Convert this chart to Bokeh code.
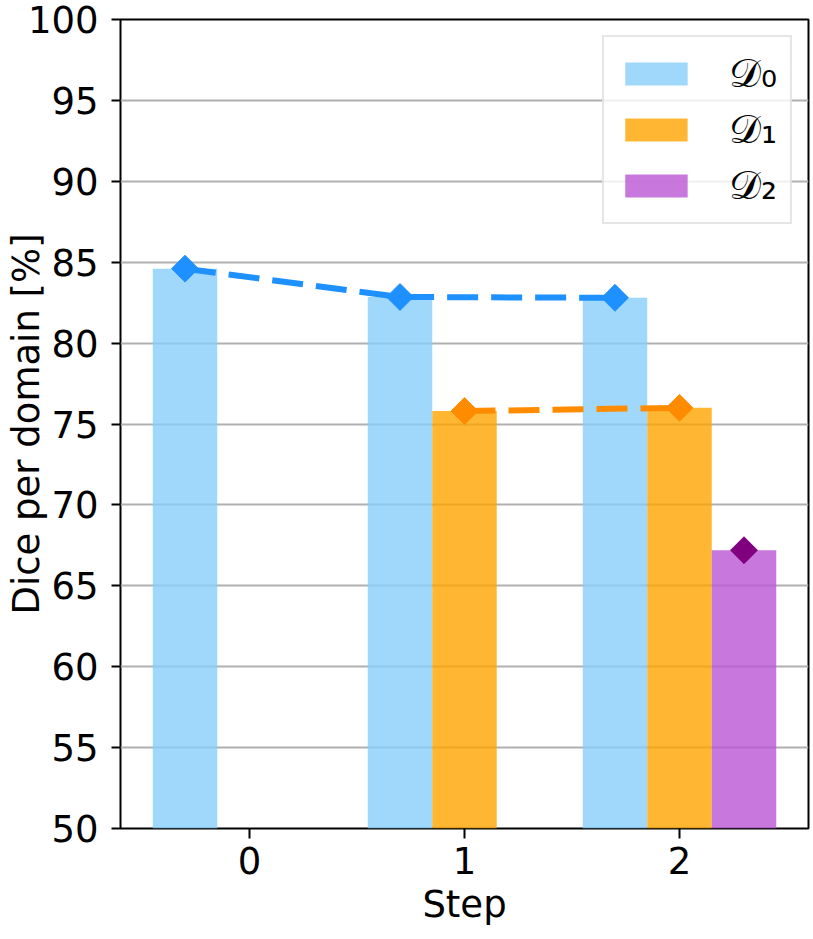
import math
from bokeh.plotting import figure
from bokeh.models import ColumnDataSource, Range1d, FixedTicker, Legend, LegendItem
from bokeh.embed import file_html
from bokeh.resources import INLINE

steps = [0, 1, 2]
domains = ["𝒟₀", "𝒟₁", "𝒟₂"]
dice_d0 = [84.6, 82.85, 82.8]
dice_d1 = [None, 75.8, 76.0]
dice_d2 = [None, None, 67.2]
offsets = [-0.3, 0.0, 0.3]
bar_colors = ["lightskyblue", "orange", "mediumorchid"]
line_colors = ["dodgerblue", "darkorange", "purple"]
y_ticks = [50, 55, 60, 65, 70, 75, 80, 85, 90, 95, 100]

p = figure(width=813, height=939, output_backend="svg", toolbar_location=None,
           x_range=Range1d(-0.6, 2.6), y_range=Range1d(50, 100),
           min_border_left=120, min_border_right=5, min_border_top=19,
           min_border_bottom=111)
p.outline_line_color = "black"
p.outline_line_width = 2
p.xgrid.visible = False
p.ygrid.grid_line_color = "#b0b0b0"
p.ygrid.grid_line_width = 2
p.ygrid.ticker = FixedTicker(ticks=y_ticks)

items = []
for d, series in enumerate([dice_d0, dice_d1, dice_d2]):
    xs = [s + offsets[d] for s, v in zip(steps, series) if v is not None]
    ys = [v for v in series if v is not None]
    src = ColumnDataSource(dict(x=xs, top=ys))
    r = p.vbar(x="x", top="top", bottom=50, width=0.3, source=src,
               fill_color=bar_colors[d], fill_alpha=0.8, line_color=None)
    items.append(LegendItem(label=domains[d], renderers=[r]))
for d, series in enumerate([dice_d0, dice_d1, dice_d2]):
    xs = [s + offsets[d] for s, v in zip(steps, series) if v is not None]
    ys = [v for v in series if v is not None]
    src = ColumnDataSource(dict(x=xs, y=ys))
    if len(xs) > 1:
        p.line("x", "y", source=src, line_color=line_colors[d], line_width=6,
               line_dash="31 13")
    p.scatter("x", "y", source=src, marker="square", size=19, angle=math.pi / 4,
              fill_color=line_colors[d], line_color=line_colors[d])

legend = Legend(items=items, location="top_right")
legend.glyph_width = 78
legend.glyph_height = 29
legend.label_text_font = "DejaVu Sans"
legend.label_text_font_size = "40px"
legend.label_text_color = "black"
legend.label_standoff = 34
legend.spacing = 9
legend.padding = 13
legend.margin = 16
legend.border_line_color = "#cccccc"
legend.border_line_width = 2
legend.background_fill_alpha = 0.8
p.add_layout(legend)

for ax in (p.xaxis[0], p.yaxis[0]):
    ax.axis_line_color = None
    ax.major_tick_line_width = 2
    ax.major_tick_line_color = "black"
    ax.major_tick_in = 0
    ax.minor_tick_line_color = None
    ax.major_label_text_font = "DejaVu Sans"
    ax.major_label_text_font_size = "37px"
    ax.major_label_text_color = "black"
    ax.axis_label_text_font = "DejaVu Sans"
    ax.axis_label_text_font_size = "37px"
    ax.axis_label_text_font_style = "normal"
    ax.axis_label_text_color = "black"

p.xaxis.ticker = FixedTicker(ticks=steps)
p.yaxis.ticker = FixedTicker(ticks=y_ticks)
p.xaxis.axis_label = "Step"
p.yaxis.axis_label = "Dice per domain [%]"
p.xaxis.major_tick_out = 10
p.yaxis.major_tick_out = 9
p.xaxis.major_label_standoff = 8
p.yaxis.major_label_standoff = 13
p.xaxis.axis_label_standoff = 6
p.yaxis.axis_label_standoff = -23

open("out.html", "w").write(file_html(p, INLINE))
